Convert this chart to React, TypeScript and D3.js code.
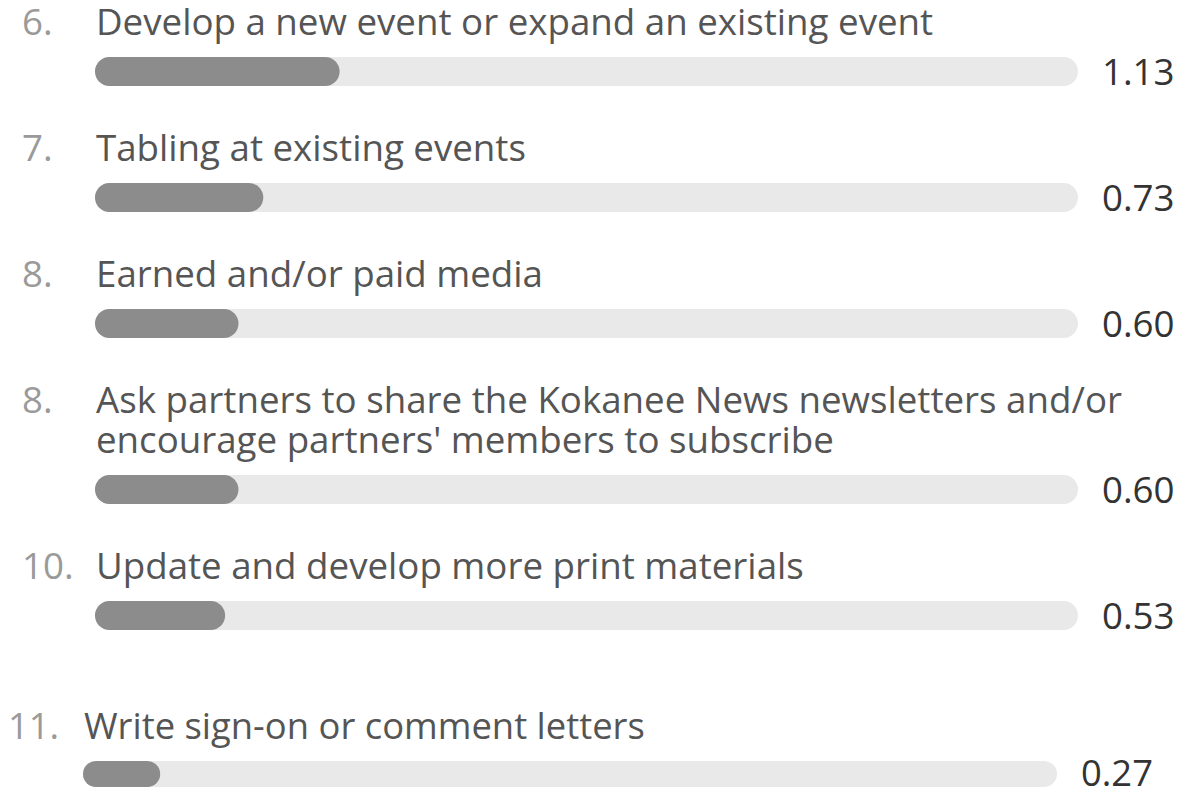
import React, { useEffect, useRef } from 'react';
import * as d3 from 'd3';

// ranked answers
const ranks = ['6.', '7.', '8.', '8.', '10.', '11.'];
const labels = [
  'Develop a new event or expand an existing event',
  'Tabling at existing events',
  'Earned and/or paid media',
  "Ask partners to share the Kokanee News newsletters and/or encourage partners' members to subscribe",
  'Update and develop more print materials',
  'Write sign-on or comment letters',
];
const scores = [1.13, 0.73, 0.6, 0.6, 0.53, 0.27];
const maxScore = 5;

const App = () => {
  const ref = useRef<SVGSVGElement>(null);

  useEffect(() => {
    const width = 1201;
    const height = 788;
    const lineH = 40;
    const numX = 22;
    const labelX = 96;
    const trackW = 983;
    const wrapW = 1080;

    const svg = d3.select(ref.current);
    svg.selectAll('*').remove();
    svg.attr('width', width).attr('height', height)
      .style('font-family', '"Open Sans", sans-serif');

    let baseline = 35;
    ranks.forEach((rank, i) => {
      const last = i === ranks.length - 1;
      // last row sits a bit further down and left in the source
      if (last) baseline += 34;
      const dx = last ? -12 : 0;
      const barH = last ? 26 : 29;
      const tw = last ? trackW - 9 : trackW;
      const fontSize = last ? 36.4 : 36.7;

      const g = svg.append('g').attr('transform', `translate(${dx},0)`);

      g.append('text')
        .attr('x', numX + (last ? -2 : 0))
        .attr('y', baseline)
        .attr('font-size', fontSize)
        .attr('fill', '#9a9a9a')
        .text(rank);

      // wrap label
      const t = g.append('text')
        .attr('x', labelX)
        .attr('y', baseline)
        .attr('font-size', fontSize)
        .attr('fill', '#555');
      const words = labels[i].split(' ');
      let line: string[] = [];
      let tspan = t.append('tspan').attr('x', labelX).attr('y', baseline);
      let lines = 1;
      words.forEach(w => {
        line.push(w);
        tspan.text(line.join(' '));
        if ((tspan.node() as SVGTSpanElement).getComputedTextLength() > wrapW && line.length > 1) {
          line.pop();
          tspan.text(line.join(' '));
          line = [w];
          tspan = t.append('tspan').attr('x', labelX).attr('y', baseline + lines * lineH).text(w);
          lines++;
        }
      });
      const lastBase = baseline + (lines - 1) * lineH;
      const barY = lastBase + 22;

      const x = d3.scaleLinear().domain([0, maxScore]).range([barH, tw]);

      g.append('rect')
        .attr('x', labelX - 1)
        .attr('y', barY)
        .attr('width', tw)
        .attr('height', barH)
        .attr('rx', barH / 2)
        .attr('fill', '#e9e9e9');

      g.append('rect')
        .attr('x', labelX - 1)
        .attr('y', barY)
        .attr('width', x(scores[i]))
        .attr('height', barH)
        .attr('rx', barH / 2)
        .attr('fill', '#8c8c8c');

      g.append('text')
        .attr('x', labelX - 1 + tw + 24)
        .attr('y', barY + barH - 1)
        .attr('font-size', fontSize)
        .attr('fill', '#333')
        .text(d3.format('.2f')(scores[i]));

      baseline = barY + barH + 75;
    });
  }, []);

  return (
    <div style={{ position: 'absolute', left: 0, top: 0, background: '#fff' }}>
      <svg ref={ref} style={{ display: 'block' }} />
    </div>
  );
};

export default App;
